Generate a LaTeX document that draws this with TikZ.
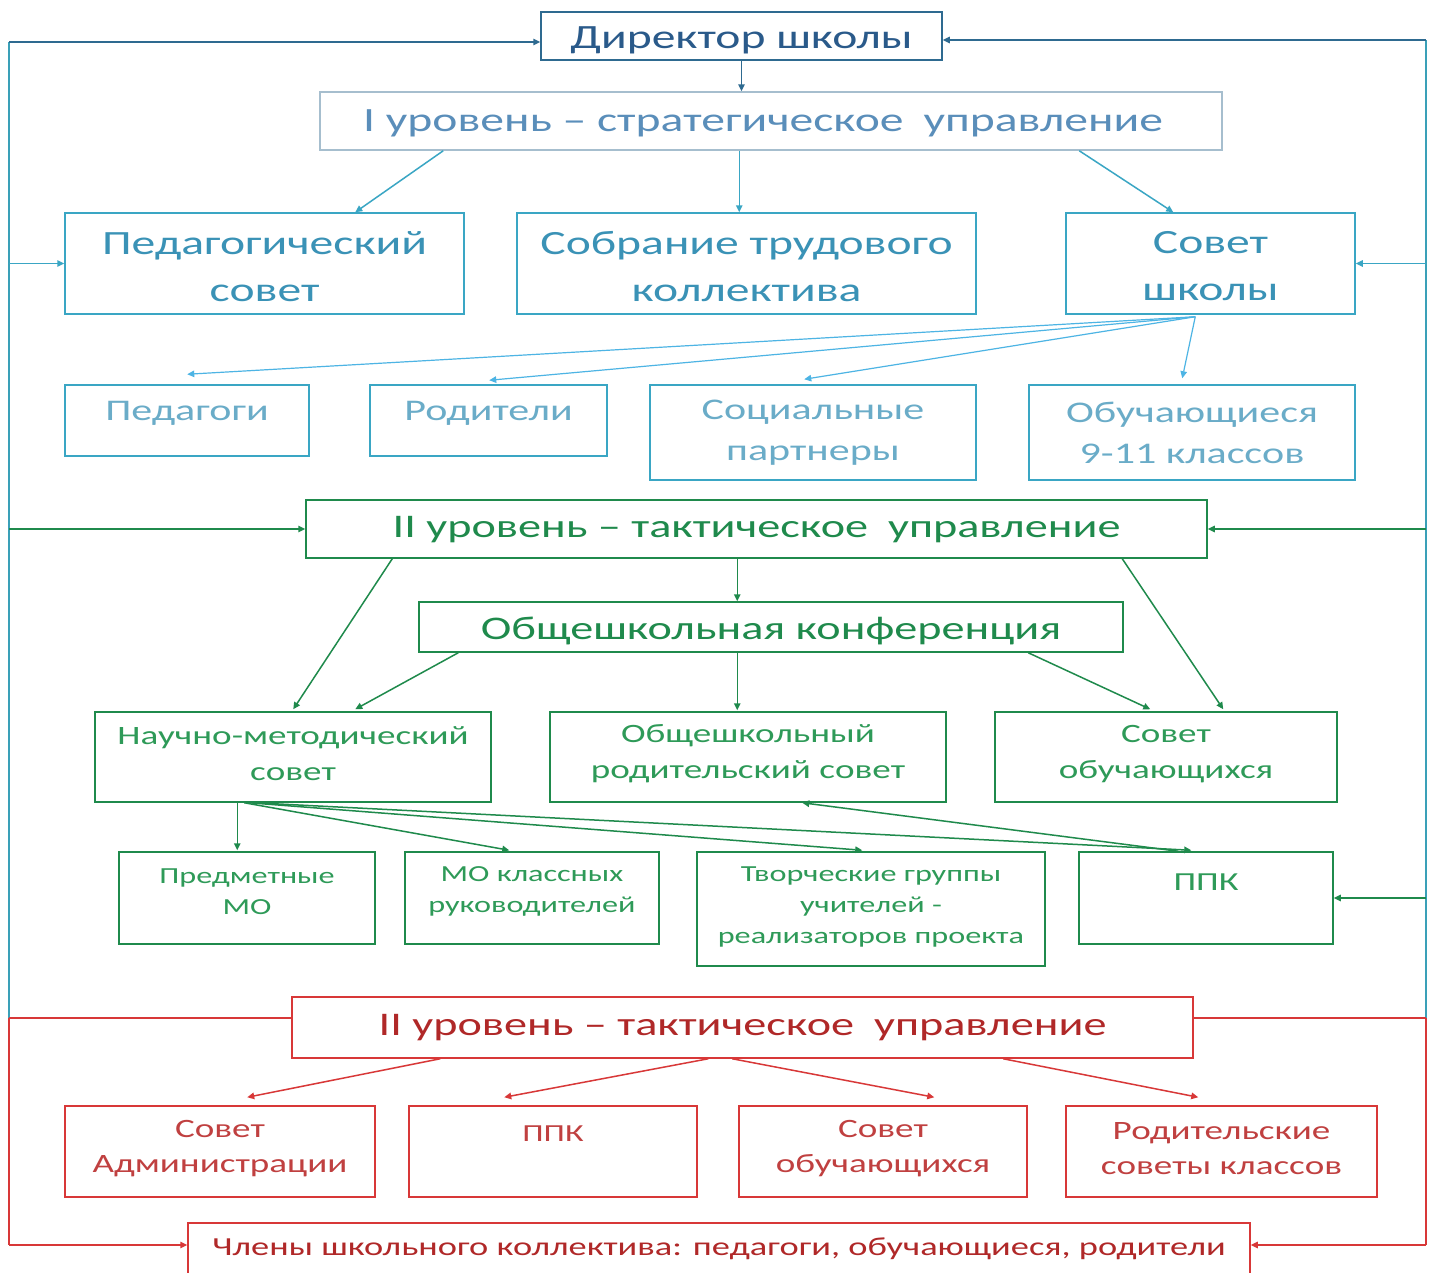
\documentclass[tikz,border=0pt]{standalone}
\usepackage{fontspec}
\newfontfamily\cf[FakeStretch=1.4]{Carlito}
\usetikzlibrary{arrows.meta,fit,calc}
\definecolor{dirb}{HTML}{2E6A90}
\definecolor{dirt}{HTML}{2A5A8A}
\definecolor{lvb}{HTML}{A6BECE}
\definecolor{lvt}{HTML}{5A8EBA}
\definecolor{tealb}{HTML}{3AA6C4}
\definecolor{tealt}{HTML}{3A92B6}
\definecolor{lightt}{HTML}{6AACC8}
\definecolor{fanb}{HTML}{4DB4E4}
\definecolor{frame}{HTML}{3AA0B8}
\definecolor{grn}{HTML}{1F8A4C}
\definecolor{grnt}{HTML}{2E9A58}
\definecolor{redb}{HTML}{D83838}
\definecolor{redt}{HTML}{C04040}
\definecolor{redd}{HTML}{B02828}
\begin{document}
\begin{tikzpicture}[x=1pt,y=-1pt,
  box/.style={draw, inner sep=0pt, line width=1.5pt},
  tx/.style={inner sep=0pt, align=center, anchor=center},
  ar/.style={-{Triangle[length=7pt,width=6.5pt]}, line width=1.5pt},
  ln/.style={line width=1.5pt},
  fA/.style={font=\cf\fontsize{34}{47}\selectfont},
  fL/.style={font=\cf\fontsize{33}{47}\selectfont},
  fB/.style={font=\cf\fontsize{30}{41}\selectfont},
  fC/.style={font=\cf\fontsize{26.5}{36}\selectfont},
  fD/.style={font=\cf\fontsize{23}{31}\selectfont},
  fE/.style={font=\cf\fontsize{26.5}{35}\selectfont}
]
\useasboundingbox (0,0) rectangle (1429,1272);
\fill[white] (0,0) rectangle (1429,1272);

% ---------- level 0/1 ----------
\node[box, draw=dirb, fit={(541,12) (942,60)}] (dir) {};
\node[tx, text=dirt, fA] (dirT) at ($(dir.center)+(0,4)$) {Директор школы};
\node[box, draw=lvb, fit={(320,92) (1222,150)}] (lv1) {};
\node[tx, text=lvt, fA] (lv1T) at ($(lv1.center)+(-8,2)$) {I уровень – стратегическое\hspace{20pt}управление};
\node[box, draw=tealb, fit={(65,213) (464,314)}] (ped) {};
\node[tx, text=tealt, fA] (pedT) at ($(ped.center)+(0,3)$) {Педагогический\\совет};
\node[box, draw=tealb, fit={(517,213) (976,314)}] (sob) {};
\node[tx, text=tealt, fA] (sobT) at ($(sob.center)+(0,3)$) {Собрание трудового\\коллектива};
\node[box, draw=tealb, fit={(1066,213) (1355,314)}] (sov) {};
\node[tx, text=tealt, fA] (sovT) at ($(sov.center)+(0,3)$) {Совет\\школы};

\node[box, draw=tealb, fit={(65,385) (309,456)}] (pg) {};
\node[tx, text=lightt, fB] (pgT) at ($(pg.north)+(0,29)$) {Педагоги};
\node[box, draw=tealb, fit={(370,385) (607,456)}] (rod) {};
\node[tx, text=lightt, fB] (rodT) at ($(rod.north)+(0,29)$) {Родители};
\node[box, draw=tealb, fit={(650,385) (976,480)}] (soc) {};
\node[tx, text=lightt, fB] (socT) at ($(soc.center)+(0,0)$) {Социальные\\партнеры};
\node[box, draw=tealb, fit={(1029,385) (1355,480)}] (obu) {};
\node[tx, text=lightt, fB] (obuT) at ($(obu.center)+(0,0)$) {Обучающиеся\\9-11 классов};

% ---------- level 2 (green) ----------
\node[box, draw=grn, fit={(306,500) (1207,558)}] (lv2) {};
\node[tx, text=grn, fL] (lv2T) at ($(lv2.center)+(0,1)$) {II уровень – тактическое\hspace{20pt}управление};
\node[box, draw=grn, fit={(419,602) (1123,652)}] (konf) {};
\node[tx, text=grn, fL] (konfT) at ($(konf.center)+(0,4)$) {Общешкольная конференция};
\node[box, draw=grn, fit={(95,712) (491,802)}] (nmc) {};
\node[tx, text=grnt, fC] (nmcT) at ($(nmc.center)+(0,-3)$) {Научно-методический\\совет};
\node[box, draw=grn, fit={(550,712) (946,802)}] (ors) {};
\node[tx, text=grnt, fC] (orsT) at ($(ors.center)+(0,-3)$) {Общешкольный\\родительский совет};
\node[box, draw=grn, fit={(995,712) (1337,802)}] (sobu) {};
\node[tx, text=grnt, fC] (sobuT) at ($(sobu.center)+(0,-3)$) {Совет\\обучающихся};

\node[box, draw=grn, fit={(119,852) (375,944)}] (pmo) {};
\node[tx, text=grnt, fD] (pmoT) at ($(pmo.north)+(0,40)$) {Предметные\\МО};
\node[box, draw=grn, fit={(405,852) (659,944)}] (mok) {};
\node[tx, text=grnt, fD] (mokT) at ($(mok.north)+(0,40)$) {МО классных\\руководителей};
\node[box, draw=grn, fit={(697,852) (1045,966)}] (tvg) {};
\node[tx, text=grnt, fD] (tvgT) at ($(tvg.center)+(0,-2)$) {Творческие группы\\учителей -\\реализаторов проекта};
\node[box, draw=grn, fit={(1079,852) (1333,944)}] (ppk) {};
\node[tx, text=grnt, font=\cf\fontsize{26}{31}\selectfont] (ppkT) at ($(ppk.north)+(0,31)$) {ППК};

% ---------- red level ----------
\node[box, draw=redb, fit={(292,997) (1193,1058)}] (lv2r) {};
\node[tx, text=redd, fL] (lv2rT) at ($(lv2r.center)+(0,0)$) {II уровень – тактическое\hspace{20pt}управление};
\node[box, draw=redb, fit={(65,1106) (375,1197)}] (sadm) {};
\node[tx, text=redt, fE] (sadmT) at ($(sadm.center)+(0,-3)$) {Совет\\Администрации};
\node[box, draw=redb, fit={(409,1106) (697,1197)}] (ppkr) {};
\node[tx, text=redt, font=\cf\fontsize{24.5}{31}\selectfont] (ppkrT) at ($(ppkr.north)+(0,28)$) {ППК};
\node[box, draw=redb, fit={(739,1106) (1027,1197)}] (sobr) {};
\node[tx, text=redt, fE] (sobrT) at ($(sobr.center)+(0,-3)$) {Совет\\обучающихся};
\node[box, draw=redb, fit={(1066,1106) (1377,1197)}] (rsk) {};
\node[tx, text=redt, fE] (rskT) at ($(rsk.center)+(0,-3)$) {Родительские\\советы классов};
\node[box, draw=redb, fit={(188,1223) (1250,1290)}] (chl) {};
\node[tx, text=redd, font=\cf\fontsize{26}{31}\selectfont] (chlT) at ($(chl.north)+(0,27)$) {Члены школьного коллектива: педагоги, обучающиеся, родители};

% ---------- frame ----------
\coordinate (Lt) at (9,42);
\coordinate (Lr) at (9,1018);
\coordinate (Lb) at (9,1245);
\coordinate (Rt) at (1426,40);
\coordinate (Rr) at (1426,1018);
\coordinate (Rb) at (1426,1245);

\draw[ln, frame] (Lt) -- (Lr);
\draw[ln, frame] (Rt) -- (Rr);
\draw[ln, redb] (Lr) -- (Lb);
\draw[ln, redb] (Rr) -- (Rb);

\draw[ar, dirb] (Lt) -- (Lt -| dir.west);
\draw[ar, dirb] (Rt) -- (Rt -| dir.east);
\draw[ar, tealb] (Lt |- ped.west) -- (ped.west);
\draw[ar, tealb] (Rt |- sov.east) -- (sov.east);
\draw[ar, grn] (Lt |- lv2.west) -- (lv2.west);
\draw[ar, grn] (Rt |- lv2.east) -- (lv2.east);
\draw[ar, grn] (Rt |- ppk.east) -- (ppk.east);
\draw[ln, redb] (Lr) -- (Lr -| lv2r.west);
\draw[ln, redb] (Rr) -- (Rr -| lv2r.east);
\draw[ar, redb] (Lb) -- (Lb -| chl.west);
\draw[ar, redb] (Rb) -- (Rb -| chl.east);

% ---------- blue connectors ----------
\draw[ar, dirb] (dir.south) -- (dir.south |- lv1.north);
\draw[ar, tealb] ($(lv1.south west)+(124,0)$) -- ($(ped.north west)+(291,0)$);
\draw[ar, tealb] ($(lv1.south west)+(420,0)$) -- ($(sob.north west)+(223,0)$);
\draw[ar, tealb] ($(lv1.south west)+(760,0)$) -- ($(sov.north west)+(108,0)$);
\coordinate (fan) at ($(sov.south west)+(130,2)$);
\draw[ar, fanb, line width=1.2pt] (fan) -- ($(pg.north west)+(123,-10)$);
\draw[ar, fanb, line width=1.2pt] (fan) -- ($(rod.north west)+(120,-4)$);
\draw[ar, fanb, line width=1.2pt] (fan) -- ($(soc.north west)+(155,-5)$);
\draw[ar, fanb, line width=1.2pt] (fan) -- ($(obu.north west)+(154,-6)$);

% ---------- green connectors ----------
\draw[ar, grn] ($(lv2.south west)+(432,0)$) -- ($(konf.north west)+(319,0)$);
\draw[ar, grn] ($(lv2.south west)+(87,0)$) -- ($(nmc.north west)+(199,-2)$);
\draw[ar, grn] ($(konf.south west)+(40,0)$) -- ($(nmc.north west)+(261,-2)$);
\draw[ar, grn] ($(konf.south west)+(319,0)$) -- ($(ors.north west)+(188,-1)$);
\draw[ar, grn] ($(konf.south west)+(610,0)$) -- ($(sobu.north west)+(156,-2)$);
\draw[ar, grn] ($(lv2.south west)+(817,0)$) -- ($(sobu.north west)+(229,-2)$);
\draw[ar, grn] ($(nmc.south west)+(143,0)$) -- ($(pmo.north west)+(119,-1)$);
\draw[ar, grn] ($(nmc.south west)+(150,0)$) -- ($(mok.north west)+(105,-1)$);
\draw[ar, grn] ($(nmc.south west)+(155,0)$) -- ($(tvg.north west)+(166,-1)$);
\draw[ar, grn] ($(nmc.south west)+(160,0)$) -- ($(ppk.north west)+(113,-1)$);
\draw[ar, grn] ($(ppk.north west)+(100,0)$) -- ($(ors.south west)+(253,0)$);

% ---------- red connectors ----------
\draw[ar, redb] ($(lv2r.south west)+(149,0)$) -- ($(sadm.north west)+(183,-8)$);
\draw[ar, redb] ($(lv2r.south west)+(417,0)$) -- ($(ppkr.north west)+(96,-8)$);
\draw[ar, redb] ($(lv2r.south west)+(441,0)$) -- ($(sobr.north west)+(196,-8)$);
\draw[ar, redb] ($(lv2r.south west)+(712,0)$) -- ($(rsk.north west)+(133,-8)$);
\end{tikzpicture}
\end{document}
